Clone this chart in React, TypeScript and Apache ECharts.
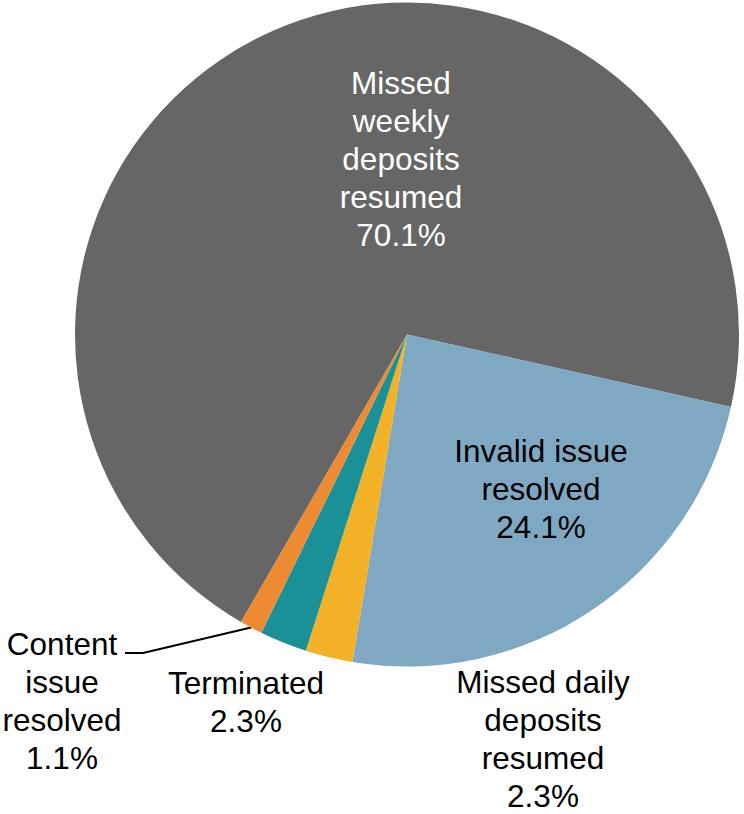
import React, { useEffect, useRef } from "react";
import * as echarts from "echarts";

const categories = [
  "Missed weekly deposits resumed",
  "Invalid issue resolved",
  "Missed daily deposits resumed",
  "Terminated",
  "Content issue resolved",
];
const labelLines = [
  "Missed\nweekly\ndeposits\nresumed",
  "Invalid issue\nresolved",
  "Missed daily\ndeposits\nresumed",
  "Terminated",
  "Content\nissue\nresolved",
];
const values = [70.1, 24.1, 2.3, 2.3, 1.1];
const colors = ["#666666", "#7FA9C3", "#F3B128", "#1A9097", "#EE8B32"];
const labelColors = ["#ffffff", "#000000", "#000000", "#000000", "#000000"];
const labelCenters: number[][] = [
  [401, 159],
  [541, 489],
  [543, 739],
  [246, 702],
  [62, 701],
];

export default function App() {
  const ref = useRef<HTMLDivElement>(null);
  useEffect(() => {
    if (!ref.current) return;
    const chart = echarts.init(ref.current, undefined, { renderer: "svg" });
    const font = "'Liberation Sans', Arial, sans-serif";
    chart.setOption({
      animation: false,
      backgroundColor: "#ffffff",
      series: [
        {
          type: "pie",
          center: [407, 334.5],
          radius: 332,
          startAngle: 240,
          clockwise: true,
          avoidLabelOverlap: false,
          emphasis: { disabled: true },
          itemStyle: { borderWidth: 0 },
          label: {
            show: true,
            position: "outside",
            fontFamily: font,
            fontSize: 31.5,
            lineHeight: 38,
            color: "#000",
            align: "center",
            formatter: (p: any) =>
              `${labelLines[p.dataIndex]}\n${values[p.dataIndex].toFixed(1)}%`,
          },
          labelLine: { show: false },
          labelLayout: (params: any) => {
            const i = params.dataIndex;
            const res: any = {
              x: labelCenters[i][0],
              y: labelCenters[i][1],
              align: "center",
              verticalAlign: "middle",
            };
            if (i === 4) {
              const p0 =
                params.labelLinePoints && params.labelLinePoints[0]
                  ? params.labelLinePoints[0]
                  : [252, 628];
              res.labelLinePoints = [p0, [143, 653], [125, 653]];
            }
            return res;
          },
          data: categories.map((name, i) => ({
            name,
            value: values[i],
            itemStyle: { color: colors[i] },
            label: {
              position: i < 2 ? "inside" : "outside",
              color: labelColors[i],
            },
            labelLine:
              i === 4
                ? { show: true, length: 20, length2: 20, lineStyle: { color: "#000", width: 2 } }
                : { show: false },
          })),
        },
      ],
    });
    return () => chart.dispose();
  }, []);
  return (
    <div
      ref={ref}
      style={{ position: "fixed", left: 0, top: 0, width: 744, height: 814 }}
    />
  );
}
